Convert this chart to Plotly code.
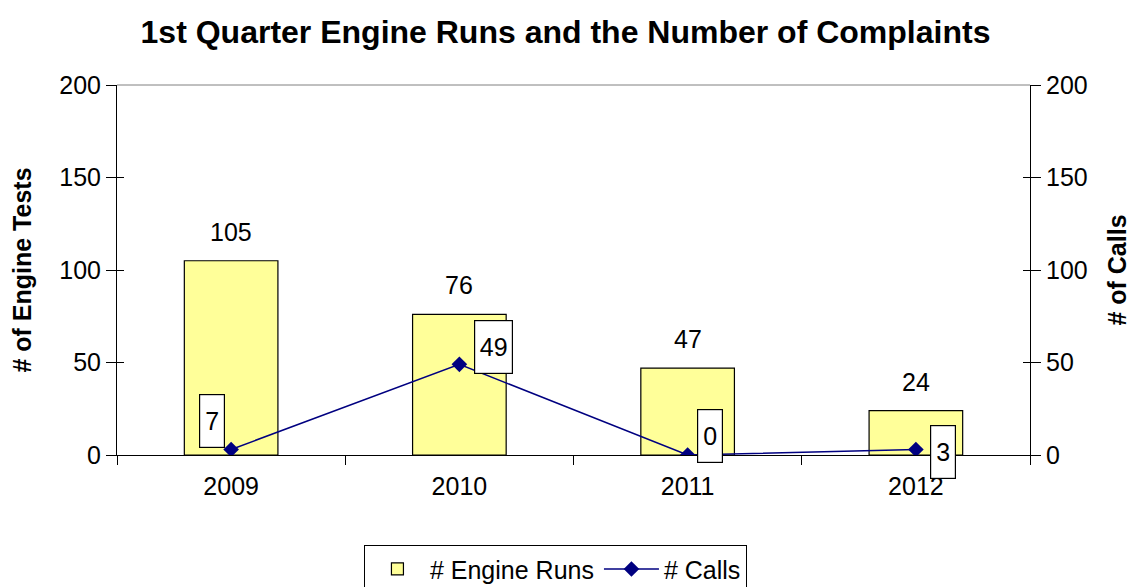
import plotly.graph_objects as go

years = ["2009", "2010", "2011", "2012"]
engine_runs = [105, 76, 47, 24]
calls = [3, 49, 0, 3]
call_labels = ["7", "49", "0", "3"]
y_ticks = [0, 50, 100, 150, 200]

FONT = "Liberation Sans, Arial, sans-serif"
TICK_SIZE = 25

fig = go.Figure()
fig.add_trace(go.Bar(
    x=years, y=engine_runs, name="# Engine Runs",
    marker=dict(color="#FFFF99", line=dict(color="black", width=1.2)),
    width=0.41, yaxis="y",
))
fig.add_trace(go.Scatter(
    x=years, y=calls, name="# Calls", mode="lines+markers",
    line=dict(color="#000080", width=1.5),
    marker=dict(symbol="diamond", size=12, color="#000080"),
    yaxis="y2",
))

# bar value labels
for i, v in enumerate(engine_runs):
    fig.add_annotation(x=i, y=v, xref="x", yref="y", text=str(v),
                       showarrow=False, yshift=29,
                       font=dict(family=FONT, size=TICK_SIZE, color="black"))

# call value labels (boxed)
offsets = [(-19, 28), (34, 17), (22, 19), (27, -3)]
for i, (v, lab, (dx, dy)) in enumerate(zip(calls, call_labels, offsets)):
    fig.add_annotation(x=i, y=v, xref="x", yref="y2", text=lab,
                       showarrow=False, xshift=dx, yshift=dy,
                       width=20 if len(lab) == 1 else 33, height=48,
                       bgcolor="white", bordercolor="black", borderwidth=1.2,
                       borderpad=2,
                       font=dict(family=FONT, size=TICK_SIZE, color="black"))

axis_common = dict(range=[0, 200], tickvals=y_ticks, showgrid=False,
                   zeroline=False, linecolor="black", linewidth=1, showline=True,
                   tickcolor="black", ticklen=10, tickwidth=1, automargin=False,
                   tickfont=dict(family=FONT, size=TICK_SIZE, color="black"))

fig.update_layout(
    width=1131, height=587,
    margin=dict(l=117, r=101, t=85, b=132),
    paper_bgcolor="white", plot_bgcolor="white",
    title=dict(text="<b>1st Quarter Engine Runs and the Number of Complaints</b>",
               x=0.5, xanchor="center", y=1 - 32 / 587, yanchor="middle",
               font=dict(family=FONT, size=32, color="black")),
    xaxis=dict(type="category", showgrid=False, linecolor="black", linewidth=1,
               showline=True, ticks="outside", automargin=False,
               tickson="boundaries", ticklen=9, tickcolor="black",
               ticklabelstandoff=9,
               tickfont=dict(family=FONT, size=TICK_SIZE, color="black"),
               range=[-0.5, 3.5]),
    yaxis=dict(**axis_common, ticks="outside", side="left",
               title=dict(text="<b># of Engine Tests</b>", standoff=20,
                          font=dict(family=FONT, size=25, color="black"))),
    yaxis2=dict(**axis_common, ticks="outside", side="right", overlaying="y",
                anchor="x",
                title=dict(text="<b># of Calls</b>", standoff=22,
                           font=dict(family=FONT, size=25, color="black"))),
    yaxis3=dict(range=[0, 200], tickvals=y_ticks, showgrid=False, zeroline=False,
                ticks="inside", ticklen=7, tickcolor="black", showticklabels=False,
                showline=False, overlaying="y", side="left", anchor="x",
                automargin=False),
    yaxis4=dict(range=[0, 200], tickvals=y_ticks, showgrid=False, zeroline=False,
                ticks="inside", ticklen=7, tickcolor="black", showticklabels=False,
                showline=False, overlaying="y", side="right", anchor="x",
                automargin=False),
    legend=dict(orientation="h", x=0.48, xanchor="center",
                yref="container", y=1 - 545 / 587, yanchor="top",
                bordercolor="black", borderwidth=1.2, bgcolor="white",
                itemwidth=55,
                font=dict(family=FONT, size=25, color="black")),
    showlegend=True,
)

# top border of plot area
fig.add_shape(type="line", xref="paper", yref="paper", x0=0, x1=1, y0=1, y1=1,
              line=dict(color="#808080", width=1))

# invisible traces so the overlay tick axes render
fig.add_trace(go.Scatter(x=years, y=[None] * 4, yaxis="y3", showlegend=False,
                         hoverinfo="skip"))
fig.add_trace(go.Scatter(x=years, y=[None] * 4, yaxis="y4", showlegend=False,
                         hoverinfo="skip"))

fig.write_html("out.html", config={"displayModeBar": False},
               post_script="document.body.style.margin='0';document.body.style.overflow='hidden';")
